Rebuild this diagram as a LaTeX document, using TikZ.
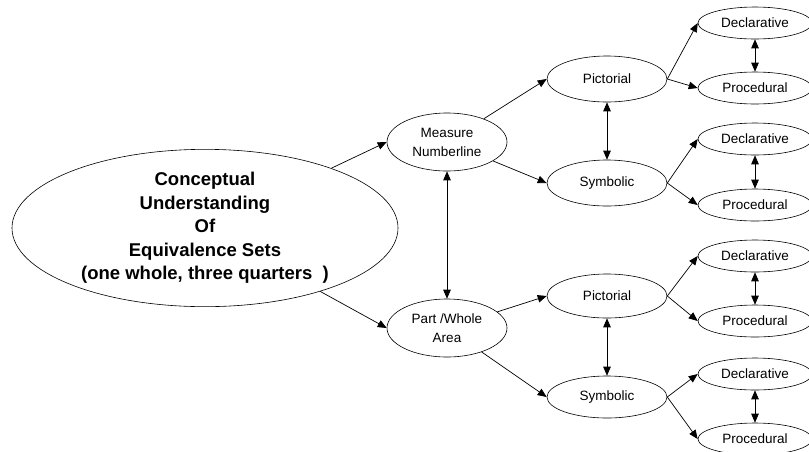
\documentclass[tikz,border=0pt]{standalone}
\usepackage{fontspec}
\setmainfont{Liberation Sans}
\usetikzlibrary{shapes.geometric,arrows.meta}
\tikzset{
  oval/.style={draw, ellipse, inner sep=0pt, align=center, line width=0.6pt},
  bignode/.style={oval, minimum width=386pt, minimum height=156pt,
    font=\fontsize{18.5pt}{23.5pt}\selectfont\bfseries},
  midnode/.style={oval, minimum width=120pt, minimum height=58pt,
    font=\fontsize{13.5pt}{19pt}\selectfont},
  pnode/.style={oval, minimum width=120pt, minimum height=46pt,
    font=\fontsize{13.5pt}{16pt}\selectfont},
  dnode/.style={oval, minimum width=114pt, minimum height=32pt,
    font=\fontsize{13.5pt}{16pt}\selectfont},
  arr/.style={line width=0.7pt, -{Triangle[length=9pt,width=7.5pt]}},
  biarr/.style={line width=0.7pt, {Triangle[length=9pt,width=7.5pt]}-{Triangle[length=9pt,width=7.5pt]}}
}
\begin{document}
\begin{tikzpicture}[x=1pt,y=-1pt]
\useasboundingbox (0,0) rectangle (809,451);
\node[bignode] (main) at (205,228) {Conceptual\\Understanding\\Of\\Equivalence Sets\\(one whole, three quarters\ \ )};
\node[midnode] (meas) at (447,142) {Measure\\Numberline};
\node[midnode] (part) at (447,328) {Part /Whole\\Area};
\node[pnode] (pic1) at (607,79) {Pictorial};
\node[pnode] (sym1) at (607,183) {Symbolic};
\node[pnode, minimum height=44pt] (pic2) at (607,296) {Pictorial};
\node[pnode, minimum height=42pt] (sym2) at (607,397) {Symbolic};
\node[dnode] (d1) at (755,23) {Declarative};
\node[dnode] (p1) at (755,88) {Procedural};
\node[dnode] (d2) at (755,139) {Declarative};
\node[dnode] (p2) at (755,205) {Procedural};
\node[dnode] (d3) at (755,256) {Declarative};
\node[dnode] (p3) at (755,321) {Procedural};
\node[dnode] (d4) at (755,374) {Declarative};
\node[dnode] (p4) at (755,439) {Procedural};
\draw[arr] (main) -- (meas.west);
\draw[arr] (main) -- (part.west);
\draw[biarr] (meas.south) -- (part.north);
\draw[arr] (meas) -- (pic1.west);
\draw[arr] (meas) -- (sym1.west);
\draw[arr] (part) -- (pic2.west);
\draw[arr] (part) -- (sym2.west);
\draw[biarr] (pic1.south) -- (sym1.north);
\draw[biarr] (pic2.south) -- (sym2.north);
\draw[arr] (pic1.east) -- (d1.west);
\draw[arr] (pic1.east) -- (p1.west);
\draw[arr] (sym1.east) -- (d2.west);
\draw[arr] (sym1.east) -- (p2.west);
\draw[arr] (pic2.east) -- (d3.west);
\draw[arr] (pic2.east) -- (p3.west);
\draw[arr] (sym2.east) -- (d4.west);
\draw[arr] (sym2.east) -- (p4.west);
\draw[biarr] (d1.south) -- (p1.north);
\draw[biarr] (d2.south) -- (p2.north);
\draw[biarr] (d3.south) -- (p3.north);
\draw[biarr] (d4.south) -- (p4.north);
\end{tikzpicture}
\end{document}
